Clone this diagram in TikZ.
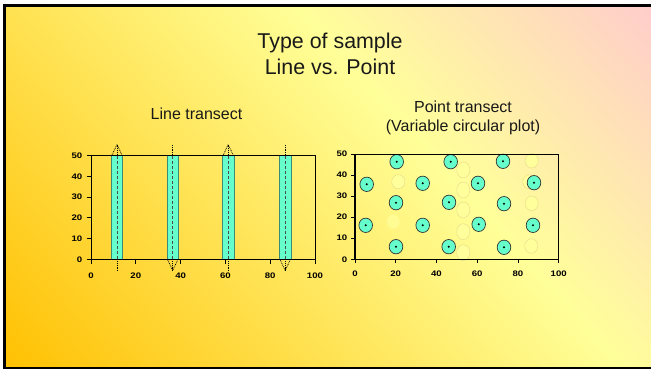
\documentclass[tikz,border=0pt]{standalone}
\usepackage{fontspec}
\setmainfont{Liberation Sans}
\usepackage{graphicx}
\definecolor{bgorange}{HTML}{FFC000}
\definecolor{bgyellow}{HTML}{FFFF99}
\definecolor{bgpink}{HTML}{FFCCCC}
\definecolor{tealfill}{HTML}{66FFCC}
\definecolor{tealedge}{HTML}{3A8C76}
\definecolor{paleyel}{HTML}{FFFF9C}
\definecolor{paleedge}{HTML}{E6D98C}
\pgfdeclareverticalshading{slidebg}{100bp}{color(0bp)=(bgorange); color(25bp)=(bgorange); color(56.8bp)=(bgyellow); color(75bp)=(bgpink); color(100bp)=(bgpink)}
\newcommand{\ticktxt}[1]{\scalebox{1.2}[1]{#1}}
\tikzset{
  axtick/.style={line width=0.8pt},
  ticklabel/.style={font=\fontsize{8}{9}\bfseries\selectfont, inner sep=0pt},
  stripbox/.style={fill=tealfill, draw=tealedge, line width=0.5pt},
  centerdash/.style={draw=black!70, dash pattern=on 3pt off 2pt, line width=0.5pt},
  dotline/.style={dash pattern=on 0.9pt off 0.9pt, line width=0.7pt},
  plotcirc/.style={fill=tealfill, draw=black!80, line width=0.7pt},
  palecirc/.style={fill=paleyel, draw=paleedge, line width=0.4pt},
  titletext/.style={font=\fontsize{21.4}{24}\selectfont, text=black!90, inner sep=0pt},
  subtext/.style={font=\fontsize{16}{18}\selectfont, text=black!90, inner sep=0pt},
}
\begin{document}
\begin{tikzpicture}[x=1pt,y=-1pt]
\useasboundingbox (0,0) rectangle (651,369);
\fill[white] (0,0) rectangle (651,369);
% background gradient
\begin{scope}
  \clip (4.7,5.3) rectangle (653,369);
  \shade[shading=slidebg, transform canvas={shift={(325.5,184.5)}, rotate=-48}] (-600,-365) rectangle (600,365);
\end{scope}
\draw[line width=2.7pt] (4.7,5.3) rectangle (652.5,368.5);

% titles
\node[titletext, anchor=base] (title1) at (330,48.3) {Type of sample};
\node[titletext, anchor=base] (title2) at (330,74.3) {Line vs. Point};
\node[subtext, anchor=base] (linelab) at (196.5,119.3) {Line transect};
\node[subtext, anchor=base] (pointlab1) at (463,112.7) {Point transect};
\node[subtext, anchor=base] (pointlab2) at (463,131.7) {(Variable circular plot)};

% ---------- left chart ----------
\foreach \c in {117,172.7,228.2,285.2}{
  \filldraw[stripbox] ({\c-5.7},155.7) rectangle ({\c+5.7},259.3);
  \draw[centerdash] (\c,155.7) -- (\c,259.3);
}
% top markers
\foreach \c in {117,228.2}{
  \draw[dotline] ({\c-5},155.2) -- (\c,144.5) -- ({\c+5},155.2);
  \draw[dotline] (\c,144.5) -- (\c,155.7);
}
\foreach \c in {172.7,285.2}{
  \draw[dotline] (\c,145) -- (\c,155.7);
}
% bottom markers
\foreach \c in {117,228.2}{
  \draw[dotline] (\c,259.3) -- (\c,270.5);
}
\foreach \c in {172.7,285.2}{
  \draw[dotline] ({\c-5},259.8) -- (\c,270.5) -- ({\c+5},259.8);
  \draw[dotline] (\c,259.3) -- (\c,270.5);
}
\draw[line width=0.9pt] (91,155.7) rectangle (315,259.3);
\draw[line width=1.4pt] (91,155.7) -- (315,155.7);
\draw[line width=1.4pt] (91,259.3) -- (315,259.3);
\foreach \v in {0,10,20,30,40,50}{
  \draw[axtick] (86.7,{259.3-\v*2.072}) -- (91,{259.3-\v*2.072});
  \node[ticklabel, anchor=east] (ly\v) at (82.5,{259.3-\v*2.072}) {\ticktxt{\v}};
}
\foreach \v in {0,20,40,60,80,100}{
  \draw[axtick] ({91+\v*2.24},259.3) -- ({91+\v*2.24},264);
  \node[ticklabel] (lx\v) at ({91+\v*2.24},275.5) {\ticktxt{\v}};
}

% ---------- right chart ----------
% pale circles
\foreach \x/\y/\ry in {398.3/181.7/7, 463.3/170/8, 463.3/190/8, 463.3/210/8, 463.3/231.7/8, 463.3/252.7/8, 531.7/160.7/7.3, 531.7/203.3/7.3, 531.3/246/7.3, 529.3/181.7/7}{
  \filldraw[palecirc] (\x,\y) ellipse[x radius=6.6pt, y radius=\ry pt];
}
\fill[paleyel, opacity=0.7] (393.3,221.7) ellipse[x radius=6.5pt, y radius=7pt];
% teal circles
\foreach \x/\y in {396.7/161.7, 450.7/161.7, 503/161.3, 366.7/184.3, 422.7/183.3, 478/183.3, 534/182.7, 396/202.7, 449/202.3, 504/203.7, 365.7/225.3, 422.7/225.3, 478.7/224.3, 533/225.3, 396/246.7, 448.7/246.7, 504/247.3}{
  \filldraw[plotcirc] (\x,\y) ellipse[x radius=6.8pt, y radius=7.2pt];
  \fill (\x,\y) circle[radius=1.1pt];
}
\draw[line width=0.8pt] (355,154) rectangle (558.7,259.3);
\draw[line width=1.3pt] (355,154) -- (355,259.3) -- (558.7,259.3);
\foreach \v in {0,10,20,30,40,50}{
  \draw[axtick] (351,{259.3-\v*2.106}) -- (355,{259.3-\v*2.106});
  \node[ticklabel, anchor=east] (ry\v) at (347.5,{259.3-\v*2.106}) {\ticktxt{\v}};
}
\foreach \v in {0,20,40,60,80,100}{
  \draw[axtick] ({355+\v*2.037},259.3) -- ({355+\v*2.037},263);
  \node[ticklabel] (rx\v) at ({355+\v*2.037},273.3) {\ticktxt{\v}};
}
\end{tikzpicture}
\end{document}
